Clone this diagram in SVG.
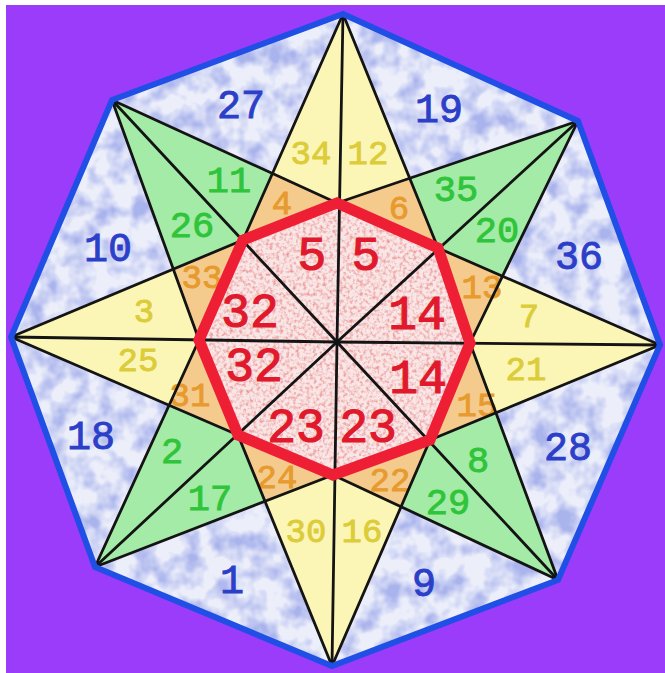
<svg xmlns="http://www.w3.org/2000/svg" width="665" height="673" viewBox="0 0 665 673">
<defs>
<style>
.ln{fill:none;stroke:#141414;stroke-width:2.8;stroke-linejoin:round;stroke-linecap:round}
text{font-family:"Liberation Mono","DejaVu Sans Mono",monospace;text-anchor:middle;stroke-width:0.9px}
.b{fill:#2b3fc8;stroke:#2b3fc8;font-size:40px}
.y{fill:#dccc3a;stroke:#dccc3a;font-size:34px}
.g{fill:#30c43a;stroke:#30c43a;font-size:37px}
.o{fill:#e79a2e;stroke:#e79a2e;font-size:34px}
.r{fill:#e0192c;stroke:#e0192c;font-size:48px;stroke-width:1.2px}
.yk{fill:#fbf6b6}
.gk{fill:#a3eba6}
</style>
<filter id="mb" filterUnits="userSpaceOnUse" x="0" y="0" width="665" height="673">
<feTurbulence type="fractalNoise" baseFrequency="0.045" numOctaves="3" seed="7" result="n"/>
<feColorMatrix in="n" type="matrix" values="0 0 0 0 0  0 0 0 0 0  0 0 0 0 0  0 0 0 2.6 -1.0" result="a"/>
<feComposite in="SourceGraphic" in2="a" operator="in"/>
</filter>
<filter id="mr" filterUnits="userSpaceOnUse" x="0" y="0" width="665" height="673">
<feTurbulence type="fractalNoise" baseFrequency="0.3" numOctaves="2" seed="3" result="n"/>
<feColorMatrix in="n" type="matrix" values="0 0 0 0 0  0 0 0 0 0  0 0 0 0 0  0 0 0 2.4 -1.05" result="a"/>
<feComposite in="SourceGraphic" in2="a" operator="in"/>
</filter>
</defs>

<rect x="0" y="0" width="665" height="673" fill="#ffffff"/>
<rect x="6" y="5" width="659" height="668" fill="#9a3cfa"/>

<g id="outer-field">
<polygon points="343,14 578,121 660,345 558,580 332,666 95,567 11,337 112,100" fill="#eceefa"/>
<polygon points="343,14 578,121 660,345 558,580 332,666 95,567 11,337 112,100" fill="#a9b3ec" filter="url(#mb)"/>
</g>

<g id="star-points">
<polygon class="yk" points="343,14 409.7,178.3 337,203 272.4,173.4"/>
<polygon class="gk" points="578,121 502.5,276.2 438,248 409.7,178.3"/>
<polygon class="yk" points="660,345 495.9,412.8 470,343 502.5,276.2"/>
<polygon class="gk" points="558,580 401.1,506.8 430,440 495.9,412.8"/>
<polygon class="yk" points="332,666 265,501.3 333,475 401.1,506.8"/>
<polygon class="gk" points="95,567 169.1,405.3 238,435 265,501.3"/>
<polygon class="yk" points="11,337 173.3,269.1 199,340 169.1,405.3"/>
<polygon class="gk" points="112,100 272.4,173.4 243,240 173.3,269.1"/>
</g>

<g id="orange-ring">
<polygon fill="#f4cb8c" points="337,203 409.7,178.3 438,248 502.5,276.2 470,343 495.9,412.8 430,440 401.1,506.8 333,475 265,501.3 238,435 169.1,405.3 199,340 173.3,269.1 243,240 272.4,173.4"/>
</g>

<g id="core">
<polygon fill="#f9e6e6" points="337,203 438,248 470,343 430,440 333,475 238,435 199,340 243,240"/>
<polygon fill="#ec9494" filter="url(#mr)" points="337,203 438,248 470,343 430,440 333,475 238,435 199,340 243,240"/>
</g>

<g id="labels">
<text class="b" x="241" y="117.6">27</text>
<text class="b" x="439" y="121.6">19</text>
<text class="b" x="579" y="268.6">36</text>
<text class="b" x="568" y="459.6">28</text>
<text class="b" x="424" y="595.6">9</text>
<text class="b" x="232" y="592.6">1</text>
<text class="b" x="91" y="448.6">18</text>
<text class="b" x="108" y="260.6">10</text>

<text class="y" x="311" y="163.7">34</text>
<text class="y" x="368" y="163.7">12</text>
<text class="y" x="144" y="321.7">3</text>
<text class="y" x="138" y="370.7">25</text>
<text class="y" x="529" y="326.7">7</text>
<text class="y" x="526" y="379.7">21</text>
<text class="y" x="306" y="541.7">30</text>
<text class="y" x="362" y="541.7">16</text>

<text class="g" x="229" y="191.7">11</text>
<text class="g" x="192" y="236.7">26</text>
<text class="g" x="456" y="200.7">35</text>
<text class="g" x="497" y="241.7">20</text>
<text class="g" x="172" y="462.7">2</text>
<text class="g" x="210" y="509.7">17</text>
<text class="g" x="478" y="471.7">8</text>
<text class="g" x="448" y="513.7">29</text>

<text class="o" x="282" y="213.7">4</text>
<text class="o" x="399" y="218.7">6</text>
<text class="o" x="482" y="297.7">13</text>
<text class="o" x="202" y="287.7">33</text>
<text class="o" x="190" y="405.7">31</text>
<text class="o" x="477" y="415.7">15</text>
<text class="o" x="277" y="487.7">24</text>
<text class="o" x="390" y="490.7">22</text>

<text class="r" x="312" y="270">5</text>
<text class="r" x="366" y="270">5</text>
<text class="r" x="250" y="327">32</text>
<text class="r" x="417" y="329">14</text>
<text class="r" x="254" y="381">32</text>
<text class="r" x="418" y="393">14</text>
<text class="r" x="296" y="442">23</text>
<text class="r" x="368" y="442">23</text>
</g>

<g id="connectors">
<polyline class="ln" points="343,14 438,248 470,343 558,580"/>
<polyline class="ln" points="578,121 470,343 430,440 332,666"/>
<polyline class="ln" points="660,345 430,440 333,475 95,567"/>
<polyline class="ln" points="558,580 333,475 238,435 11,337"/>
<polyline class="ln" points="332,666 238,435 199,340 112,100"/>
<polyline class="ln" points="95,567 199,340 243,240 343,14"/>
<polyline class="ln" points="11,337 243,240 337,203 578,121"/>
<polyline class="ln" points="112,100 337,203 438,248 660,345"/>
<polyline class="ln" points="343,14 337,342 332,666"/>
<polyline class="ln" points="578,121 337,342 95,567"/>
<polyline class="ln" points="660,345 337,342 11,337"/>
<polyline class="ln" points="558,580 337,342 112,100"/>
</g>

<g id="red-octagon">
<polygon points="337,203 438,248 470,343 430,440 333,475 238,435 199,340 243,240" fill="none" stroke="#ee1f35" stroke-width="11" stroke-linejoin="miter"/>
</g>

<g id="blue-octagon">
<polygon points="343,14 578,121 660,345 558,580 332,666 95,567 11,337 112,100" fill="none" stroke="#1f4fe5" stroke-width="6" stroke-linejoin="miter"/>
</g>
</svg>
